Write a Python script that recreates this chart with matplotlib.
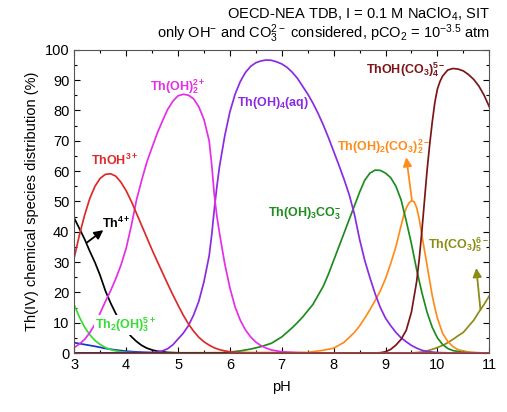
import matplotlib
matplotlib.use("Agg")
import matplotlib.pyplot as plt
from matplotlib.ticker import MultipleLocator

plt.rcParams['font.family'] = ['Liberation Sans', 'DejaVu Sans']
plt.rcParams['mathtext.fontset'] = 'custom'
plt.rcParams['mathtext.rm'] = 'Liberation Sans'
plt.rcParams['mathtext.it'] = 'Liberation Sans:italic'
plt.rcParams['mathtext.bf'] = 'Liberation Sans:bold'

# ---------------- data (pH, % of total Th(IV)) ----------------
th4_ph = [3.0, 3.1, 3.2, 3.3, 3.4, 3.5, 3.6, 3.7, 3.8, 3.9, 4.0, 4.1, 4.2, 4.3, 4.4, 4.5, 4.6, 4.8, 5.0, 5.5, 11.0]
th4_val = [44.4, 41, 37.5, 33.5, 29.8, 25.5, 20.5, 16.5, 13, 10, 7.5, 5.4, 3.8, 2.5, 1.6, 1.0, 0.6, 0.2, 0.05, 0, 0]

thoh_ph = [3.0, 3.1, 3.2, 3.3, 3.4, 3.5, 3.6, 3.7, 3.8, 3.9, 4.0, 4.1, 4.2, 4.3, 4.4, 4.5, 4.6, 4.7, 4.8, 4.9,
           5.0, 5.1, 5.2, 5.3, 5.4, 5.5, 5.6, 5.7, 5.8, 5.9, 6.0, 6.2, 6.5, 11.0]
thoh_val = [31.5, 39, 45.5, 51, 55, 57.6, 58.9, 59.1, 58.3, 56.3, 53.5, 50, 46, 42, 38, 34, 30.2, 26.5, 22.8, 19.2,
            15.8, 12.5, 9.6, 7.2, 5.2, 3.7, 2.6, 1.7, 1.1, 0.7, 0.4, 0.15, 0, 0]

th2oh3_ph = [3.0, 3.1, 3.2, 3.3, 3.4, 3.5, 3.6, 3.7, 3.8, 3.9, 4.0, 4.2, 4.5, 11.0]
th2oh3_val = [15.8, 11.8, 8.5, 6.0, 4.1, 2.8, 1.8, 1.1, 0.7, 0.4, 0.2, 0.05, 0, 0]

blue_ph = [3.0, 3.2, 3.4, 3.6, 3.8, 4.0, 4.2, 4.4, 4.7, 5.0, 11.0]
blue_val = [3.4, 2.8, 2.2, 1.5, 1.0, 0.6, 0.35, 0.2, 0.05, 0, 0]

thoh2_ph = [3.0, 3.1, 3.2, 3.3, 3.4, 3.5, 3.6, 3.7, 3.8, 3.9, 4.0, 4.1, 4.2, 4.3, 4.4, 4.5, 4.6, 4.7, 4.8, 4.9,
            5.0, 5.1, 5.2, 5.3, 5.4, 5.5, 5.6, 5.65, 5.7, 5.75, 5.8, 5.9, 6.0, 6.1, 6.2, 6.3, 6.4, 6.5, 6.6, 6.7,
            6.8, 7.0, 7.3, 7.6, 11.0]
thoh2_val = [1.8, 3.0, 4.5, 6.7, 9.5, 13.2, 17, 20.5, 24.5, 29, 34.5, 42, 50.5, 57, 63, 67.8, 72.5, 76.5, 80.3, 83,
             84.8, 85.3, 85, 83.8, 81.2, 77, 70, 62, 52, 45, 39.5, 29.5, 21.5, 15.2, 10.8, 7.6, 5.3, 3.6, 2.4, 1.6,
             1.0, 0.4, 0.1, 0, 0]

thoh4_ph = [3.0, 4.5, 4.6, 4.7, 4.8, 4.9, 5.0, 5.1, 5.2, 5.3, 5.4, 5.5, 5.6, 5.65, 5.7, 5.75, 5.8, 5.9, 6.0, 6.1,
            6.2, 6.3, 6.4, 6.5, 6.6, 6.7, 6.8, 6.9, 7.0, 7.1, 7.2, 7.3, 7.4, 7.5, 7.6, 7.7, 7.8, 7.9, 8.0, 8.1,
            8.2, 8.3, 8.4, 8.5, 8.6, 8.7, 8.8, 8.9, 9.0, 9.1, 9.2, 9.3, 9.4, 9.5, 9.6, 9.7, 9.8, 10.0, 10.3, 11.0]
thoh4_val = [0, 0.1, 0.3, 0.7, 1.4, 2.7, 4.6, 6.5, 9, 12.5, 17, 23.5, 32, 39, 47.5, 55, 61.5, 71.5, 79.5, 85.3,
             89.5, 92.5, 94.5, 95.7, 96.3, 96.6, 96.5, 96, 95.3, 94.2, 92.6, 90.6, 88, 85.4, 82.4, 79, 75.2, 71, 66.5, 62,
             57.3, 52.2, 45.8, 37.5, 30.5, 24.8, 19.5, 15, 11.5, 9, 6.8, 5, 3.7, 2.5, 1.6, 0.9, 0.5, 0.15, 0, 0]

thoh3co3_ph = [3.0, 5.8, 6.0, 6.2, 6.4, 6.6, 6.8, 7.0, 7.2, 7.3, 7.4, 7.5, 7.6, 7.7, 7.8, 7.9, 8.0, 8.1, 8.2, 8.3,
               8.4, 8.5, 8.6, 8.7, 8.8, 8.9, 9.0, 9.1, 9.2, 9.3, 9.4, 9.5, 9.6, 9.7, 9.8, 9.9, 10.0, 10.1, 10.2, 10.3,
               10.5, 10.8, 11.0]
thoh3co3_val = [0, 0, 0.3, 0.7, 1.3, 2.1, 3.2, 5.3, 8.3, 10, 11.8, 13.9, 16, 19, 22, 26, 30.5, 35, 39.5, 44,
                48.5, 53, 57, 59.3, 60.3, 60.2, 59.3, 57.8, 55, 50.5, 43.5, 36, 27.5, 20, 13.5, 8.5, 5, 2.8, 1.5, 0.8,
                0.2, 0, 0]

thoh2co3_ph = [3.0, 7.5, 7.8, 8.0, 8.2, 8.4, 8.5, 8.6, 8.7, 8.8, 8.9, 9.0, 9.1, 9.2, 9.3, 9.35, 9.4, 9.45, 9.5, 9.55,
               9.6, 9.65, 9.7, 9.75, 9.8, 9.85, 9.9, 9.95, 10.0, 10.1, 10.2, 10.3, 10.4, 10.6, 10.9, 11.0]
thoh2co3_val = [0, 0.2, 0.9, 1.6, 3.5, 6.8, 8.9, 11.5, 14.3, 17.3, 20.5, 24.5, 29.5, 35, 42, 45.3, 47.8, 49.4, 50.2, 49.9,
                48, 44.2, 39, 34, 29, 24, 19, 15, 11.5, 6.5, 3.8, 2.1, 1.1, 0.3, 0, 0]

thohco34_ph = [3.0, 8.8, 8.9, 9.0, 9.1, 9.2, 9.3, 9.4, 9.5, 9.6, 9.65, 9.7, 9.75, 9.8, 9.85, 9.9, 9.95, 10.0, 10.05, 10.1,
               10.2, 10.3, 10.4, 10.5, 10.6, 10.7, 10.8, 10.9, 11.0]
thohco34_val = [0, 0, 0.1, 0.4, 1.2, 2.6, 4.5, 7.5, 13.5, 23.5, 31, 40, 50, 60, 68.5, 76, 82.5, 87, 89.5, 91.3,
                93.3, 93.8, 93.6, 93, 91.8, 90.2, 88, 85, 81.2]

thco35_ph = [3.0, 9.5, 9.7, 9.8, 9.9, 10.0, 10.1, 10.2, 10.3, 10.4, 10.5, 10.6, 10.7, 10.8, 10.9, 11.0]
thco35_val = [0, 0, 0.3, 0.7, 1.2, 1.8, 2.5, 3.4, 4.5, 5.7, 6.8, 8.8, 10.8, 13.5, 16, 18.8]

# ---------------- figure ----------------
fig = plt.figure(figsize=(5.07, 4.12), dpi=100)
ax = fig.add_axes([0.1465, 0.1432, 0.8185, 0.7362])

lw = 1.25
c_th4 = 'black'
c_thoh = '#dc2a2a'
c_th2 = '#33dd33'
c_blue = '#1a33cc'
c_mag = '#e62ee6'
c_pur = '#8a2be2'
c_grn = '#1e8c1e'
c_org = '#ff8c1a'
c_drd = '#7b1518'
c_olv = '#8c8c14'

ax.plot(blue_ph, blue_val, color=c_blue, lw=lw)
ax.plot(th2oh3_ph, th2oh3_val, color=c_th2, lw=lw)
ax.plot(th4_ph, th4_val, color=c_th4, lw=lw)
ax.plot(thco35_ph, thco35_val, color=c_olv, lw=lw)
ax.plot(thoh2co3_ph, thoh2co3_val, color=c_org, lw=lw)
ax.plot(thoh3co3_ph, thoh3co3_val, color=c_grn, lw=lw)
ax.plot(thoh4_ph, thoh4_val, color=c_pur, lw=lw)
ax.plot(thoh2_ph, thoh2_val, color=c_mag, lw=lw)
ax.plot(thohco34_ph, thohco34_val, color=c_drd, lw=lw)
ax.plot(thoh_ph, thoh_val, color=c_thoh, lw=lw)

ax.set_xlim(3, 11)
ax.set_ylim(0, 100)
ax.xaxis.set_major_locator(MultipleLocator(1))
ax.xaxis.set_minor_locator(MultipleLocator(0.5))
ax.yaxis.set_major_locator(MultipleLocator(10))
ax.yaxis.set_minor_locator(MultipleLocator(5))
ax.tick_params(which='both', direction='in', top=True, right=True, labelsize=10.5, width=0.8)
ax.tick_params(which='major', length=4)
ax.tick_params(which='minor', length=2.5)
for s in ax.spines.values():
    s.set_linewidth(0.8)
    s.set_color('#555555')

ax.set_xlabel('pH', fontsize=10.5, labelpad=6)
ax.set_ylabel('Th(IV) chemical species distribution (%)', fontsize=10.5, labelpad=4)

fs = 9
ax.text(3.33, 63.6, r'ThOH$^{\mathbf{3+}}$', color=c_thoh, fontsize=fs, fontweight='bold', va='center')
ax.text(4.46, 87.8, r'Th(OH)$_{\mathbf{2}}^{\mathbf{2+}}$', color=c_mag, fontsize=fs, fontweight='bold', va='center')
ax.text(6.13, 82.3, r'Th(OH)$_{\mathbf{4}}$(aq)', color=c_pur, fontsize=fs, fontweight='bold', va='center')
ax.text(6.74, 46, r'Th(OH)$_{\mathbf{3}}$CO$_{\mathbf{3}}^{\mathbf{-}}$', color=c_grn, fontsize=fs, fontweight='bold', va='center')
ax.text(3.54, 42.8, r'Th$^{\mathbf{4+}}$', color=c_th4, fontsize=fs, fontweight='bold', va='center')
ax.text(3.40, 9.2, r'Th$_{\mathbf{2}}$(OH)$_{\mathbf{3}}^{\mathbf{5+}}$', color=c_th2, fontsize=fs, fontweight='bold',
        va='center', bbox=dict(facecolor='white', edgecolor='none', pad=0.5))
ax.text(8.06, 68, r'Th(OH)$_{\mathbf{2}}$(CO$_{\mathbf{3}}$)$_{\mathbf{2}}^{\mathbf{2-}}$', color=c_org, fontsize=fs,
        fontweight='bold', va='center')
ax.text(8.63, 93.3, r'ThOH(CO$_{\mathbf{3}}$)$_{\mathbf{4}}^{\mathbf{5-}}$', color=c_drd, fontsize=fs, fontweight='bold', va='center')
ax.text(9.82, 35.6, r'Th(CO$_{\mathbf{3}}$)$_{\mathbf{5}}^{\mathbf{6-}}$', color=c_olv, fontsize=fs, fontweight='bold', va='center')

ap = dict(arrowstyle='-|>', lw=1.3, mutation_scale=13, shrinkA=0, shrinkB=0)
ax.annotate('', xy=(3.56, 40.5), xytext=(3.25, 36.5), arrowprops=dict(color=c_th4, **ap))
ax.annotate('', xy=(9.40, 64.5), xytext=(9.51, 50.3), arrowprops=dict(color=c_org, **ap))
ax.annotate('', xy=(10.75, 28), xytext=(10.83, 14.3), arrowprops=dict(color=c_olv, **ap))

fig.text(0.965, 0.965, r'OECD-NEA TDB, I = 0.1 M NaClO$_4$, SIT', ha='right', va='center', fontsize=10.5)
fig.text(0.965, 0.917, r'only OH$^{-}$ and CO$_3^{2-}$ considered, pCO$_2$ = 10$^{-3.5}$ atm',
         ha='right', va='center', fontsize=10.5)

fig.savefig('out.png', dpi=100)
